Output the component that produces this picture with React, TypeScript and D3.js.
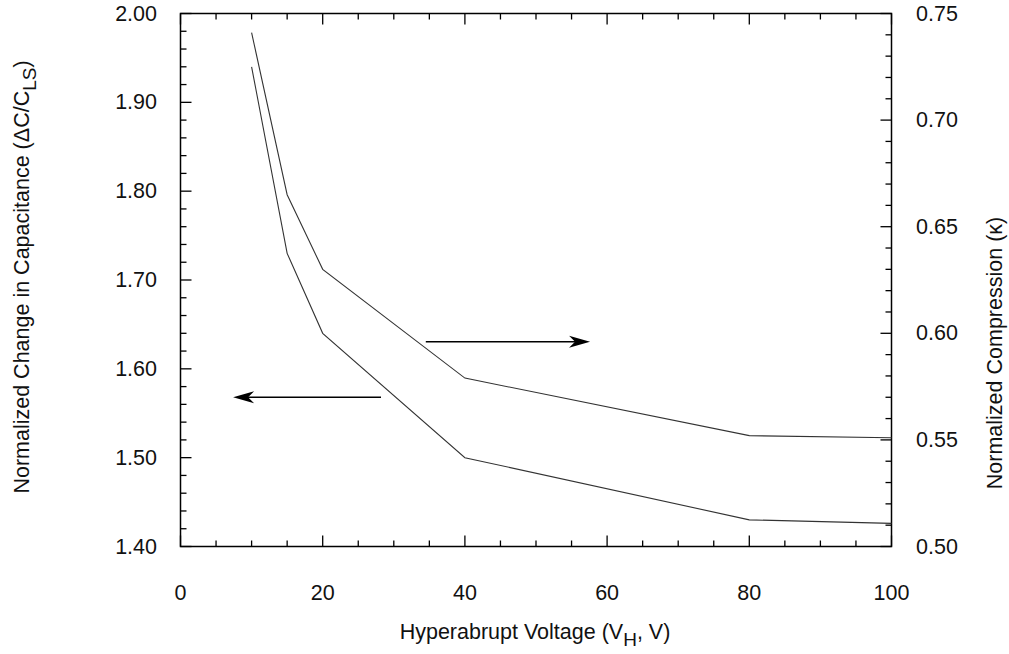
import React, { useEffect, useRef } from 'react';
import * as d3 from 'd3';

// values
const voltage = [10, 15, 20, 40, 80, 100];
const capacitance = [1.94, 1.73, 1.64, 1.5, 1.43, 1.426];
const compression = [0.741, 0.665, 0.63, 0.579, 0.552, 0.551];

const xTicks = [0, 20, 40, 60, 80, 100];
const leftTicks = [1.4, 1.5, 1.6, 1.7, 1.8, 1.9, 2.0];
const rightTicks = [0.5, 0.55, 0.6, 0.65, 0.7, 0.75];

const W = 1009;
const H = 654;
const FONT = "'Liberation Sans', Arial, Helvetica, sans-serif";

export default function App() {
  const ref = useRef<SVGSVGElement | null>(null);

  useEffect(() => {
    const svg = d3.select(ref.current);
    svg.selectAll('*').remove();

    const left = 180.5, right = 891.5, top = 13.5, bottom = 546.5;

    const x = d3.scaleLinear().domain([0, 100]).range([left, right]);
    const yL = d3.scaleLinear().domain([1.4, 2.0]).range([bottom, top]);
    const yR = d3.scaleLinear().domain([0.5, 0.75]).range([bottom, top]);

    const major = 11, minor = 6;
    const g = svg.append('g');

    // frame
    g.append('rect')
      .attr('x', left).attr('y', top)
      .attr('width', right - left).attr('height', bottom - top)
      .attr('fill', 'none').attr('stroke', '#000').attr('stroke-width', 1.5);

    // x ticks (bottom + top, inward)
    d3.range(0, 101, 5).forEach(v => {
      const len = v % 20 === 0 ? major : minor;
      g.append('line').attr('x1', x(v)).attr('x2', x(v))
        .attr('y1', bottom).attr('y2', bottom - len)
        .attr('stroke', '#000').attr('stroke-width', 1.3);
      g.append('line').attr('x1', x(v)).attr('x2', x(v))
        .attr('y1', top).attr('y2', top + len)
        .attr('stroke', '#000').attr('stroke-width', 1.3);
    });

    // left ticks
    d3.range(0, 31).forEach(i => {
      const v = 1.4 + i * 0.02;
      const len = i % 5 === 0 ? major : minor;
      g.append('line').attr('x1', left).attr('x2', left + len)
        .attr('y1', yL(v)).attr('y2', yL(v))
        .attr('stroke', '#000').attr('stroke-width', 1.3);
    });

    // right ticks
    d3.range(0, 26).forEach(i => {
      const v = 0.5 + i * 0.01;
      const len = i % 5 === 0 ? major : minor;
      g.append('line').attr('x1', right).attr('x2', right - len)
        .attr('y1', yR(v)).attr('y2', yR(v))
        .attr('stroke', '#000').attr('stroke-width', 1.3);
    });

    // tick labels
    const txt = svg.append('g').attr('font-family', FONT).attr('font-size', 21.5).attr('fill', '#111');
    xTicks.forEach(v => {
      txt.append('text').attr('x', x(v)).attr('y', 600)
        .attr('text-anchor', 'middle').text(String(v));
    });
    leftTicks.forEach(v => {
      txt.append('text').attr('x', 157).attr('y', yL(v))
        .attr('text-anchor', 'end').attr('dominant-baseline', 'central')
        .text(d3.format('.2f')(v));
    });
    rightTicks.forEach(v => {
      txt.append('text').attr('x', 916).attr('y', yR(v))
        .attr('text-anchor', 'start').attr('dominant-baseline', 'central')
        .text(d3.format('.2f')(v));
    });

    // curves
    const lineL = d3.line<number>().x((_, i) => x(voltage[i])).y(d => yL(d));
    const lineR = d3.line<number>().x((_, i) => x(voltage[i])).y(d => yR(d));
    g.append('path').attr('d', lineL(capacitance) as string)
      .attr('fill', 'none').attr('stroke', '#333').attr('stroke-width', 1.1);
    g.append('path').attr('d', lineR(compression) as string)
      .attr('fill', 'none').attr('stroke', '#333').attr('stroke-width', 1.1);

    // arrows pointing to each axis
    const arrow = (x0: number, x1: number, y: number) => {
      const dir = Math.sign(x1 - x0);
      g.append('line').attr('x1', x0).attr('x2', x1 - dir * 8).attr('y1', y).attr('y2', y)
        .attr('stroke', '#000').attr('stroke-width', 1.5);
      const p = d3.path();
      p.moveTo(x1, y);
      p.lineTo(x1 - dir * 21, y - 6);
      p.lineTo(x1 - dir * 15, y);
      p.lineTo(x1 - dir * 21, y + 6);
      p.closePath();
      g.append('path').attr('d', p.toString()).attr('fill', '#000');
    };
    arrow(x(34.5), x(57.6), 341.7);
    arrow(x(28.2), x(7.4), 397.3);

    // axis titles
    const xt = txt.append('text').attr('x', 535).attr('y', 639).attr('text-anchor', 'middle');
    xt.append('tspan').text('Hyperabrupt Voltage (V');
    xt.append('tspan').attr('dy', 7).attr('font-size', 19).text('H');
    xt.append('tspan').attr('dy', -7).text(', V)');

    const lt = txt.append('text')
      .attr('transform', 'translate(29,277) rotate(-90)')
      .attr('text-anchor', 'middle');
    lt.append('tspan').text('Normalized Change in Capacitance (\u0394C/C');
    lt.append('tspan').attr('dy', 7).attr('font-size', 19).text('LS');
    lt.append('tspan').attr('dy', -7).text(')');

    txt.append('text')
      .attr('transform', 'translate(1002,353) rotate(-90)')
      .attr('text-anchor', 'middle')
      .text('Normalized Compression (\u03ba)');
  }, []);

  return (
    <div style={{ position: 'absolute', left: 0, top: 0, width: W, height: H, background: '#fff' }}>
      <svg ref={ref} width={W} height={H} />
    </div>
  );
}
